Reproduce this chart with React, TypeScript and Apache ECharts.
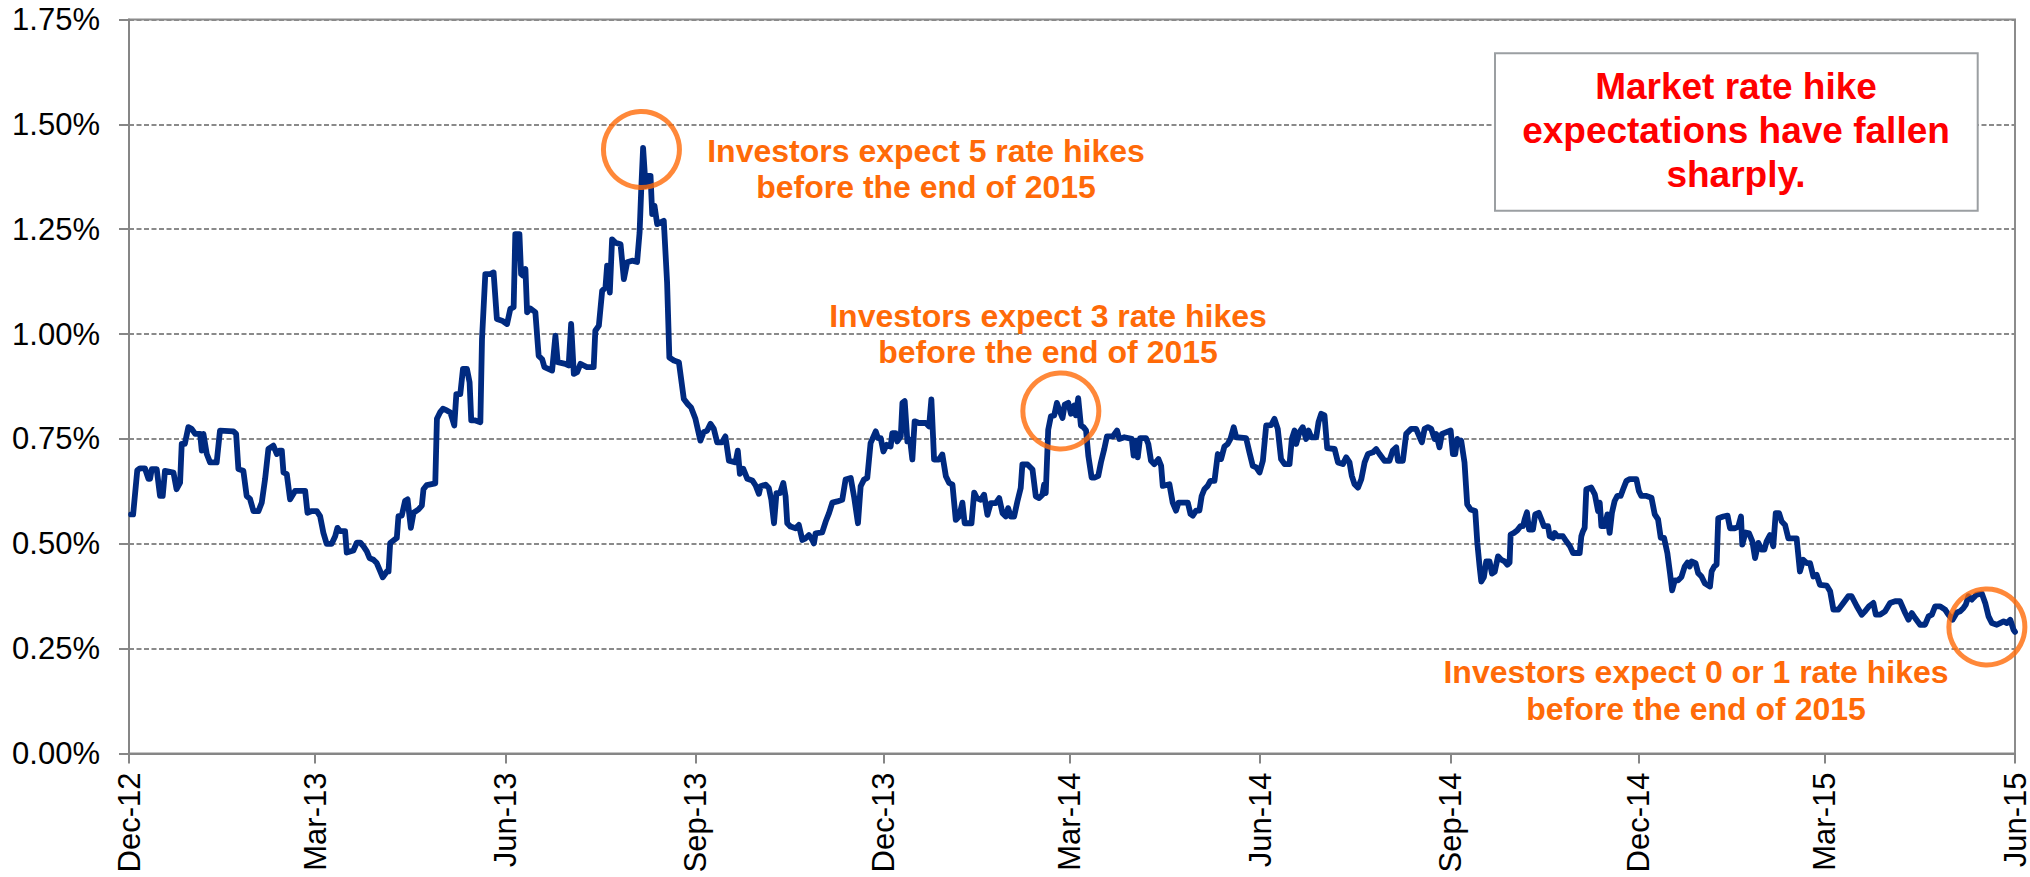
import React, { useEffect, useRef } from "react";
import * as echarts from "echarts";

// x positions are days since 1 Dec 2012; values are implied rate (%)
const tickDays = [0, 90, 182, 274, 365, 455, 547, 639, 730, 820, 912];
const tickLabels = ["Dec-12", "Mar-13", "Jun-13", "Sep-13", "Dec-13", "Mar-14", "Jun-14", "Sep-14", "Dec-14", "Mar-15", "Jun-15"];
const yMin = 0;
const yMax = 1.75;
const yStep = 0.25;

const ratesDec12ToMay13: [number, number][] = [
  [1, 0.57], [2, 0.57], [4, 0.675], [5.3, 0.68], [7.7, 0.68], [9.4, 0.655], [10.2, 0.655], [11, 0.678], [13.4, 0.678],
  [15, 0.614], [16.3, 0.614], [17.4, 0.674], [21.5, 0.67], [23, 0.63], [24.7, 0.646], [25.5, 0.738], [27, 0.738],
  [28.7, 0.778], [30.3, 0.774], [32, 0.762], [34.4, 0.762], [35.2, 0.722], [36, 0.762], [37.6, 0.714], [39.2, 0.694],
  [42.4, 0.694], [44, 0.77], [50.5, 0.768], [51.8, 0.762], [52.9, 0.678], [55.3, 0.674], [56.9, 0.614], [58.5, 0.607],
  [60.2, 0.578], [62.6, 0.578], [64.2, 0.598], [65.8, 0.654], [67.4, 0.726], [69.8, 0.734], [71.5, 0.714], [72.7, 0.722],
  [73.9, 0.722], [74.7, 0.67], [76.3, 0.666], [77.9, 0.606], [80.3, 0.626], [85.2, 0.626], [86.3, 0.574], [88.4, 0.578],
  [90.8, 0.578], [92.4, 0.566], [94, 0.526], [95.6, 0.5], [98, 0.5], [99.7, 0.518], [100.8, 0.538], [102.1, 0.53],
  [104.5, 0.53], [105.3, 0.479], [108.5, 0.484], [110.2, 0.503], [111.8, 0.503], [113.4, 0.494], [115, 0.482],
  [116.3, 0.466], [118.2, 0.462], [119.8, 0.454], [121.5, 0.434], [122.7, 0.42], [124.7, 0.434], [125.5, 0.434],
  [126.3, 0.502], [129.5, 0.514], [130.3, 0.566], [131.9, 0.567], [133.5, 0.602], [134.7, 0.606], [136.3, 0.538],
  [137.6, 0.574], [140, 0.582], [141.6, 0.591], [142.4, 0.63], [144, 0.64], [148.1, 0.644], [148.9, 0.798],
  [150.5, 0.814], [151.8, 0.822], [153.7, 0.818],
];

const ratesMay13ToOct13: [number, number][] = [
  [155.4, 0.813], [157.3, 0.782], [158.3, 0.857], [160.2, 0.857], [161.5, 0.917], [163.4, 0.917], [164.7, 0.885],
  [165.5, 0.794], [167.5, 0.794], [169.9, 0.79], [170.7, 0.988], [172.3, 1.143], [174.7, 1.143], [176.3, 1.147],
  [177.9, 1.036], [180.4, 1.032], [182.8, 1.024], [184.4, 1.06], [186, 1.064], [186.8, 1.238], [188.8, 1.238],
  [189.6, 1.143], [190.6, 1.139], [191.7, 1.155], [192.5, 1.052], [194.1, 1.061], [196.5, 1.052], [198.1, 0.948],
  [199.8, 0.94], [200.9, 0.921], [204.6, 0.913], [206.2, 0.996], [207.3, 0.933], [211, 0.929], [212.6, 0.925],
  [213.8, 1.024], [215.1, 0.905], [216.7, 0.909], [218.3, 0.929], [219.9, 0.925], [221.5, 0.921], [224.7, 0.921],
  [225.5, 1.008], [227.2, 1.02], [228.8, 1.103], [230.4, 1.111], [231.2, 1.163], [232.5, 1.099], [233.6, 1.226],
  [235.2, 1.218], [237.7, 1.214], [239.3, 1.131], [240.9, 1.171], [243.3, 1.175], [245.7, 1.172], [246.9, 1.242],
  [247.7, 1.345], [248.6, 1.444], [249.8, 1.353], [250.6, 1.377], [252.2, 1.377], [253, 1.286], [254.1, 1.306],
  [255.4, 1.262], [258.6, 1.27], [260.2, 1.123], [261.3, 0.944], [263.5, 0.937], [265.9, 0.933], [268.3, 0.845],
  [270.2, 0.833], [271.8, 0.825], [273.9, 0.798], [276.3, 0.746], [277.9, 0.766], [279.6, 0.77], [281.2, 0.786],
  [282.8, 0.774], [284.4, 0.742], [286.8, 0.742], [288.4, 0.756], [290.1, 0.698], [293.3, 0.694], [294.4, 0.722],
  [295.4, 0.667], [297, 0.679], [299, 0.655], [301.4, 0.651], [303, 0.639], [304.6, 0.619],
];

const ratesOct13ToMar14: [number, number][] = [
  [305.4, 0.637], [307.8, 0.641], [309.4, 0.633], [310.6, 0.605], [311.9, 0.549], [313.1, 0.621], [314.8, 0.621],
  [316.4, 0.645], [317.5, 0.613], [318.3, 0.549], [319.9, 0.541], [322.3, 0.537], [323.9, 0.545], [325.6, 0.509],
  [327.2, 0.513], [328.8, 0.521], [330.4, 0.509], [331.2, 0.501], [332, 0.525], [335.2, 0.527], [336.9, 0.553],
  [338.5, 0.573], [340.1, 0.598], [342.5, 0.601], [344.9, 0.605], [346.5, 0.653], [349, 0.657], [350.6, 0.613],
  [352.5, 0.549], [353.8, 0.637], [355.4, 0.653], [357, 0.657], [358.6, 0.74], [361.1, 0.768], [362.2, 0.752],
  [363.5, 0.752], [364.8, 0.72], [366.4, 0.736], [368.3, 0.732], [369.1, 0.764], [370.7, 0.764], [371.5, 0.744],
  [373.2, 0.756], [374, 0.836], [375.1, 0.84], [376.4, 0.744], [377.7, 0.748], [378.8, 0.701], [379.9, 0.792],
  [382, 0.788], [385.3, 0.788], [386.9, 0.78], [388, 0.844], [389.3, 0.701], [391.7, 0.701], [393.3, 0.713],
  [395, 0.661], [396.6, 0.645], [398.2, 0.641], [399.8, 0.557], [401.4, 0.565], [403, 0.598], [404.1, 0.549],
  [407.4, 0.549], [408.7, 0.622], [410, 0.609], [411.9, 0.605], [413.5, 0.617], [415.1, 0.569], [416.7, 0.597],
  [419.1, 0.597], [420.8, 0.609], [422.4, 0.573], [424, 0.565], [425.1, 0.585], [426.4, 0.565], [428, 0.565],
  [429.6, 0.601], [431.2, 0.633], [432, 0.689], [434.5, 0.689], [436.9, 0.677], [438.5, 0.613], [440.1, 0.609],
  [441.7, 0.617], [442.5, 0.641], [443.3, 0.621], [444.5, 0.772], [445.8, 0.804], [447.4, 0.806], [448.7, 0.836],
  [449.8, 0.82], [451.4, 0.8], [452.5, 0.832], [454.2, 0.836],
];

const ratesMar14ToAug14: [number, number][] = [
  [455.5, 0.81], [457.1, 0.83], [457.9, 0.806], [459, 0.847], [460.3, 0.782], [461.6, 0.778], [462.8, 0.77],
  [463.9, 0.71], [465.5, 0.658], [467.1, 0.658], [468.7, 0.662], [470, 0.694], [471.6, 0.726], [472.9, 0.756],
  [475.7, 0.756], [477.8, 0.77], [478.9, 0.75], [481.3, 0.754], [484.9, 0.75], [485.8, 0.71], [487, 0.746],
  [487.8, 0.706], [488.9, 0.752], [491.8, 0.752], [492.9, 0.738], [494.2, 0.698], [495.8, 0.69], [497.8, 0.702],
  [499.1, 0.686], [499.9, 0.638], [503.1, 0.642], [504.7, 0.598], [506.3, 0.579], [507.5, 0.598], [512, 0.598],
  [513.3, 0.571], [514.4, 0.567], [516, 0.579], [517.6, 0.579], [518.7, 0.614], [520, 0.63], [521.6, 0.638],
  [522.9, 0.65], [524.9, 0.65], [526.5, 0.714], [528.1, 0.702], [529.7, 0.732], [531.3, 0.738], [532.6, 0.75],
  [534.2, 0.778], [535.4, 0.754], [540.2, 0.752], [541.8, 0.718], [543.4, 0.686], [545.1, 0.682], [546.7, 0.67],
  [548.3, 0.698], [549.9, 0.782], [552.3, 0.783], [553.9, 0.798], [555.5, 0.774], [557.1, 0.702], [558.8, 0.69],
  [561.2, 0.69], [562.3, 0.75], [563.6, 0.77], [564.4, 0.738], [566, 0.766], [567.6, 0.778], [569.2, 0.75],
  [570.4, 0.77], [571.7, 0.754], [574.1, 0.754], [575.2, 0.79], [576.5, 0.81], [578.1, 0.806], [579.4, 0.728],
  [583, 0.726], [584.6, 0.694], [587, 0.69], [588.6, 0.706], [590.2, 0.694], [591.3, 0.662], [592.6, 0.642],
  [594.3, 0.634], [595.9, 0.654], [597.5, 0.694], [599.1, 0.714], [601.5, 0.718], [603.1, 0.726], [604.7, 0.714],
];

const ratesAug14ToDec14: [number, number][] = [
  [607.1, 0.698], [609.5, 0.698], [611.1, 0.722], [612.8, 0.73], [613.6, 0.698], [616, 0.698], [617.6, 0.762],
  [620, 0.774], [622.4, 0.774], [624.1, 0.754], [625.2, 0.742], [626.5, 0.774], [628.1, 0.778], [629.7, 0.774],
  [631.3, 0.75], [632.1, 0.762], [633.7, 0.73], [634.9, 0.762], [637, 0.766], [639.1, 0.77], [640.2, 0.714],
  [641.3, 0.714], [642.3, 0.75], [643.4, 0.738], [644.2, 0.746], [645.8, 0.694], [647.1, 0.594], [648.7, 0.582],
  [651, 0.578], [652, 0.502], [653.1, 0.446], [653.9, 0.41], [655.2, 0.421], [656.3, 0.458], [657.9, 0.458],
  [659.1, 0.429], [660.4, 0.433], [662, 0.47], [663.6, 0.462], [665.2, 0.458], [666.5, 0.45], [667.6, 0.455],
  [668.1, 0.522], [669.7, 0.526], [671.3, 0.532], [672.9, 0.542], [674.1, 0.542], [674.9, 0.558], [676, 0.575],
  [677, 0.534], [678.9, 0.534], [680, 0.57], [681.7, 0.574], [683, 0.558], [684.2, 0.542], [686.2, 0.542],
  [687, 0.518], [688.6, 0.514], [689.4, 0.526], [690.7, 0.518], [693.4, 0.518], [695, 0.506], [696.7, 0.495],
  [698.3, 0.478], [701.5, 0.478], [702.3, 0.518], [703.1, 0.53], [703.9, 0.538], [704.7, 0.63], [707.1, 0.634],
  [708.8, 0.618], [710.4, 0.578], [711.2, 0.598], [712, 0.542], [713.6, 0.542], [714.9, 0.57], [716, 0.526],
  [717.1, 0.574], [718.4, 0.602], [719.7, 0.614], [721.3, 0.614], [722.5, 0.63], [724.1, 0.65], [725.7, 0.654],
  [728.9, 0.654], [730.1, 0.626], [731.3, 0.614], [733.8, 0.614], [736.2, 0.61], [737.8, 0.57], [739.4, 0.558],
  [740.7, 0.514], [742.3, 0.514], [743.9, 0.478], [745.1, 0.433], [746.2, 0.389], [747.5, 0.413], [749.1, 0.413],
  [750.7, 0.421], [752.3, 0.446], [753.6, 0.455], [754.7, 0.446],
];

const ratesJan15ToJun15: [number, number][] = [
  [755.6, 0.458], [757.5, 0.454], [758.8, 0.43], [760.4, 0.422], [762, 0.406], [764.5, 0.398], [765.3, 0.434],
  [766.6, 0.446], [767.7, 0.45], [768.5, 0.561], [770.9, 0.565], [773, 0.567], [774.2, 0.537], [776.6, 0.537],
  [778.2, 0.541], [779.5, 0.565], [780.1, 0.498], [781.7, 0.527], [783.4, 0.525], [785, 0.506], [786.3, 0.466],
  [787.9, 0.502], [789.5, 0.486], [790.8, 0.486], [791.9, 0.506], [793.5, 0.521], [795.1, 0.494], [796.3, 0.573],
  [797.9, 0.573], [799.2, 0.553], [800.8, 0.545], [802.4, 0.513], [806.4, 0.513], [808, 0.434], [809.6, 0.462],
  [811.3, 0.454], [812.9, 0.454], [814.5, 0.422], [816.1, 0.426], [817.7, 0.402], [821, 0.4], [822.6, 0.387],
  [824.2, 0.343], [826.6, 0.343], [829, 0.359], [831.4, 0.375], [833, 0.375], [835.5, 0.351], [837.9, 0.331],
  [839.5, 0.339], [841.4, 0.351], [843.5, 0.359], [844.7, 0.331], [846.8, 0.331], [849.2, 0.339], [851.6, 0.359],
  [854, 0.363], [856.4, 0.363], [858.9, 0.335], [860.5, 0.319], [862.1, 0.335], [863.7, 0.323], [866.1, 0.307],
  [868.5, 0.307], [870.2, 0.327], [871.8, 0.331], [873.4, 0.351], [875.8, 0.351], [878.2, 0.343], [879.8, 0.331],
  [881.8, 0.319], [883.9, 0.336], [885.5, 0.339], [887.1, 0.347], [888.2, 0.355], [889.5, 0.375], [891.1, 0.367],
  [893.5, 0.379], [896, 0.381], [897.6, 0.359], [899.2, 0.327], [900.8, 0.311], [903.2, 0.307], [904.8, 0.311],
  [906.5, 0.315], [908.1, 0.311], [909.7, 0.319], [911.3, 0.295], [912, 0.29],
];

// highlighted points [days since 1 Dec 2012, rate %]
const highlightDays = [247.8, 450.6, 898.4];
const highlightRates = [1.44, 0.8165, 0.3016];

const annotationLines = [
  ["Investors expect 5 rate hikes", "before the end of 2015"],
  ["Investors expect 3 rate hikes", "before the end of 2015"],
  ["Investors expect 0 or 1 rate hikes", "before the end of 2015"],
];
const calloutLines = ["Market rate hike", "expectations have fallen", "sharply."];

const FONT = '"Liberation Sans", Arial, Helvetica, sans-serif';
const ORANGE = "#ff6a08";
const AXIS_GRAY = "#868686";

export default function App() {
  const ref = useRef<HTMLDivElement>(null);

  useEffect(() => {
    if (!ref.current) return;
    const chart = echarts.init(ref.current, undefined, { renderer: "svg" });

    const lineData = [
      ...ratesDec12ToMay13,
      ...ratesMay13ToOct13,
      ...ratesOct13ToMar14,
      ...ratesMar14ToAug14,
      ...ratesAug14ToDec14,
      ...ratesJan15ToJun15,
    ];
    const circleData = highlightDays.map((d, i) => [d, highlightRates[i]]);

    const annPos = [
      { x: 926, y: [150.7, 187.3] },
      { x: 1048, y: [315.7, 352.3] },
      { x: 1696, y: [672, 708.6] },
    ];

    const graphics: any[] = [];
    annotationLines.forEach((lines, i) => {
      lines.forEach((t, j) => {
        graphics.push({
          type: "text",
          x: annPos[i].x,
          y: annPos[i].y[j],
          z: 100,
          silent: true,
          style: {
            text: t,
            fill: ORANGE,
            font: `bold 32px ${FONT}`,
            align: "center",
            verticalAlign: "middle",
          },
        });
      });
    });
    graphics.push({
      type: "rect",
      z: 99,
      silent: true,
      shape: { x: 1495, y: 53.3, width: 482.7, height: 157.4 },
      style: { fill: "#ffffff", stroke: "#9b9fa2", lineWidth: 2 },
    });
    const calloutY = [86.5, 130.5, 174];
    calloutLines.forEach((t, j) => {
      graphics.push({
        type: "text",
        x: 1736,
        y: calloutY[j],
        z: 101,
        silent: true,
        style: {
          text: t,
          fill: "#ff0000",
          font: `bold 37px ${FONT}`,
          align: "center",
          verticalAlign: "middle",
        },
      });
    });

    chart.setOption({
      animation: false,
      grid: {
        left: 129,
        right: 15,
        top: 19.5,
        bottom: 123.5,
        containLabel: false,
        outerBoundsMode: "none",
        show: true,
        borderColor: "#8c8c8c",
        borderWidth: 2,
        backgroundColor: "transparent",
      },
      xAxis: {
        type: "value",
        min: tickDays[0],
        max: tickDays[tickDays.length - 1],
        axisLine: { show: true, lineStyle: { color: AXIS_GRAY, width: 2 } },
        axisTick: {
          show: true,
          length: 10,
          inside: false,
          customValues: tickDays,
          lineStyle: { color: AXIS_GRAY, width: 2 },
        },
        axisLabel: {
          customValues: tickDays,
          rotate: 90,
          margin: 19,
          fontSize: 31,
          fontFamily: FONT,
          color: "#000000",
          formatter: (v: number) => {
            const idx = tickDays.findIndex((d) => Math.abs(d - v) < 0.5);
            return idx >= 0 ? tickLabels[idx] : "";
          },
        },
        splitLine: { show: false },
      },
      yAxis: {
        type: "value",
        min: yMin,
        max: yMax,
        interval: yStep,
        axisLine: { show: true, lineStyle: { color: AXIS_GRAY, width: 2 } },
        axisTick: { show: true, length: 10, inside: false, lineStyle: { color: AXIS_GRAY, width: 2 } },
        axisLabel: {
          margin: 29,
          fontSize: 31,
          fontFamily: FONT,
          color: "#000000",
          formatter: (v: number) => v.toFixed(2) + "%",
        },
        splitLine: {
          show: true,
          lineStyle: { color: "#8a8a8a", width: 2, type: [5, 2.5] },
        },
      },
      series: [
        {
          type: "line",
          data: lineData,
          showSymbol: false,
          symbol: "none",
          silent: true,
          z: 3,
          lineStyle: { color: "#002a80", width: 5.8, join: "round", cap: "round" },
        },
        {
          type: "scatter",
          data: circleData,
          symbol: "circle",
          symbolSize: 76,
          silent: true,
          z: 4,
          itemStyle: { color: "rgba(0,0,0,0)", borderColor: ORANGE, borderWidth: 5 },
        },
      ],
      graphic: graphics,
    });

    return () => chart.dispose();
  }, []);

  return (
    <div
      ref={ref}
      style={{ position: "absolute", left: 0, top: 0, width: 2030, height: 877, background: "#ffffff" }}
    />
  );
}
